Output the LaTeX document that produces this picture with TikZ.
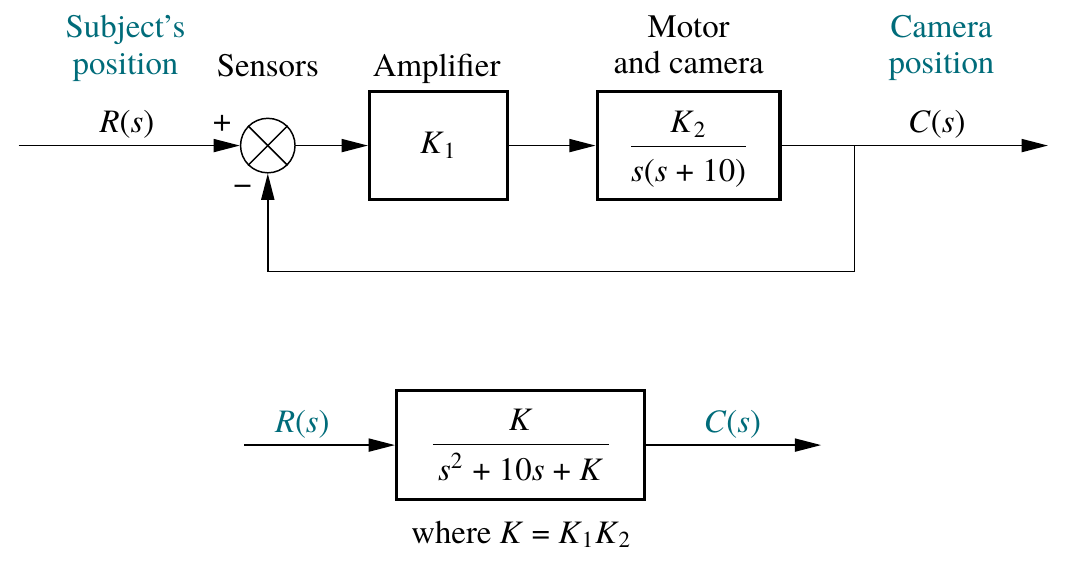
\documentclass[tikz,border=0pt]{standalone}
\usepackage{fontspec}
\setmainfont{texgyretermes}[Extension=.otf, UprightFont=*-regular, ItalicFont=*-italic, BoldFont=*-bold, BoldItalicFont=*-bolditalic]
\usetikzlibrary{arrows.meta}
\definecolor{labelteal}{RGB}{0,108,122}
\newcommand{\var}[1]{\textit{#1}}
\tikzset{
  sig/.style={-{Triangle[length=8pt,width=4pt]}, line width=0.45pt},
  blk/.style={draw, line width=1pt, minimum height=1.16cm, inner sep=0pt},
  txt/.style={inner sep=0pt},
  twoline/.style={inner sep=0pt, align=center, anchor=north, font={\fontsize{10}{11}\selectfont}}
}
\begin{document}
\begin{tikzpicture}
            \useasboundingbox[fill=white] (0,0) rectangle (11.51,-6.03);

            % closed loop
            \coordinate (in1) at (0.20,-1.56);
            \node[draw, circle, line width=0.45pt, minimum size=0.584cm, inner sep=0pt] (sum) at (2.87,-1.56) {};
            \draw[line width=0.45pt] (sum.north east) -- (sum.south west);
            \draw[line width=0.45pt] (sum.north west) -- (sum.south east);
            \node[blk, minimum width=1.48cm] (k1) at (4.70,-1.56) {\var{K}\textsubscript{1}};
            \node[blk, minimum width=1.96cm] (motor) at (7.38,-1.56)
                {$\displaystyle\frac{\mbox{\rule{0pt}{8.8pt}\var{K}\textsubscript{2}}}{\mbox{\rule{0pt}{9.5pt}\var{s}(\var{s} + 10)}}$};
            \coordinate (branch) at (9.16,-1.56);
            \coordinate (out1) at (11.23,-1.56);

            \draw[sig] (in1) -- (sum);
            \draw[sig] (sum) -- (k1);
            \draw[sig] (k1) -- (motor);
            \draw[sig] (motor) -- (out1);
            \draw[sig] (branch) -- ++(0,-1.35) -| (sum.south);

            \node[twoline, labelteal] (subj) at (1.345,-0.16) {Subject’s\\position};
            \node[txt, anchor=base] (sens) at (2.87,-0.825) {Sensors};
            \node[txt, anchor=base] (amp) at (4.68,-0.825) {Amplifier};
            \node[twoline] (mot) at (7.38,-0.16) {Motor\\and camera};
            \node[twoline, labelteal] (cam) at (10.09,-0.16) {Camera\\position};
            \node[txt, anchor=base] (r1) at (1.36,-1.415) {\var{R}(\var{s})};
            \node[txt, anchor=base] (c1) at (10.04,-1.415) {\var{C}(\var{s})};
            \node[txt] (plus) at (2.38,-1.32) {+};
            \node[txt] (minus) at (2.60,-2.04) {−};

            % equivalent block
            \coordinate (in2) at (2.62,-4.77);
            \node[blk, minimum width=2.66cm, minimum height=1.17cm] (sys) at (5.58,-4.77)
                {$\displaystyle\frac{\mbox{\var{K}}}{\mbox{\,\rule{0pt}{9.5pt}\var{s}\textsuperscript{2} + 10\var{s} + \var{K}\,}}$};
            \coordinate (out2) at (8.80,-4.77);

            \draw[sig] (in2) -- (sys);
            \draw[sig] (sys) -- (out2);

            \node[txt, anchor=base, labelteal] (r2) at (3.24,-4.63) {\var{R}(\var{s})};
            \node[txt, anchor=base, labelteal] (c2) at (7.85,-4.63) {\var{C}(\var{s})};
            \node[txt, anchor=base] (where) at (5.59,-5.82) {where \var{K} = \var{K}\textsubscript{1}\var{K}\textsubscript{2}};

        \end{tikzpicture}
\end{document}
